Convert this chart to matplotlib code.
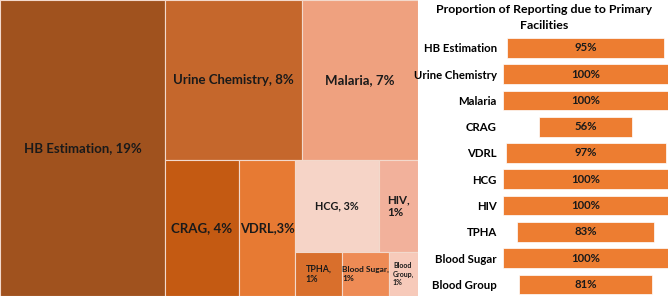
import matplotlib.pyplot as plt
from matplotlib.patches import Rectangle

plt.rcParams['font.family'] = ['Lato', 'DejaVu Sans']

# treemap data (cell size weights and printed share)
tests = ['HB Estimation', 'Urine Chemistry', 'Malaria', 'CRAG', 'VDRL',
         'HCG', 'HIV', 'TPHA', 'Blood Sugar', 'Blood Group']
weights = [19.0, 8.5, 7.2, 3.9, 3.0, 3.0, 1.4, 0.8, 0.8, 0.5]
labels = ['HB Estimation, 19%', 'Urine Chemistry, 8%', 'Malaria, 7%',
          'CRAG, 4%', 'VDRL,3%', 'HCG, 3%', 'HIV,\n1%', 'TPHA,\n1%',
          'Blood Sugar,\n1%', 'Blood\nGroup,\n1%']
colors = ['#A0521E', '#C5672C', '#EFA17F', '#C45A12', '#E77A33',
          '#F6D4C7', '#F2B19B', '#D96F2C', '#EE8B55', '#F7CABA']
fsizes = [9.5, 9.5, 9.5, 9.5, 9.3, 7.8, 8.3, 6.4, 6.0, 5.0]

# nesting used by the treemap: (direction, children)
layout = ('h', [0, ('v', [('h', [1, 2]), ('h', [3, 4, ('v', [('h', [5, 6]), ('h', [7, 8, 9])])])])])

# right panel
share = [95, 100, 100, 56, 97, 100, 100, 83, 100, 81]


def total(node):
    if isinstance(node, int):
        return weights[node]
    return sum(total(c) for c in node[1])


def place(node, x, y, w, h, out):
    if isinstance(node, int):
        out[node] = (x, y, w, h)
        return
    d, kids = node
    s = total(node)
    pos = 0
    for k in kids:
        f = total(k) / s
        if d == 'h':
            place(k, x + pos * w, y, w * f, h, out)
        else:
            place(k, x, y + h - (pos + f) * h, w, h * f, out)
        pos += f


fig = plt.figure(figsize=(6.69, 2.99), dpi=100)

ax = fig.add_axes([0.0, 0.01, 0.625, 0.99])
rects = {}
place(layout, 0, 0, 1, 1, rects)
for i in range(len(tests)):
    x, y, w, h = rects[i]
    ax.add_patch(Rectangle((x, y), w, h, facecolor=colors[i],
                           edgecolor='#F3D9CC', linewidth=0.8))
    ax.text(x + w / 2, y + h / 2, labels[i], ha='center', va='center',
            multialignment='left', fontsize=fsizes[i], fontweight='bold',
            color='#1A1A1A')
ax.set_xlim(0, 1)
ax.set_ylim(0, 1)
ax.axis('off')

bx = fig.add_axes([0.752, 0.005, 0.2466, 0.879])
ypos = range(len(tests))
bx.barh(ypos, share, left=[-v / 2 for v in share], height=0.75,
        color='#ED7D31', edgecolor='white', linewidth=0.5)
for i, v in enumerate(share):
    bx.text(0, i, f'{v}%', ha='center', va='center', fontsize=8.2,
            fontweight='bold', color='#1A1A1A')
bx.set_xlim(-50, 50)
bx.set_ylim(len(tests) - 0.5, -0.5)
bx.set_yticks(list(ypos))
bx.set_yticklabels(tests, fontsize=8.2, fontweight='bold')
bx.tick_params(left=False, bottom=False, labelbottom=False, pad=1)
for s in bx.spines.values():
    s.set_visible(False)
fig.text(0.813, 0.94, 'Proportion of Reporting due to Primary\nFacilities',
         ha='center', va='center', fontsize=8.9, fontweight='bold',
         linespacing=1.55)

fig.savefig('out.png', dpi=100)
